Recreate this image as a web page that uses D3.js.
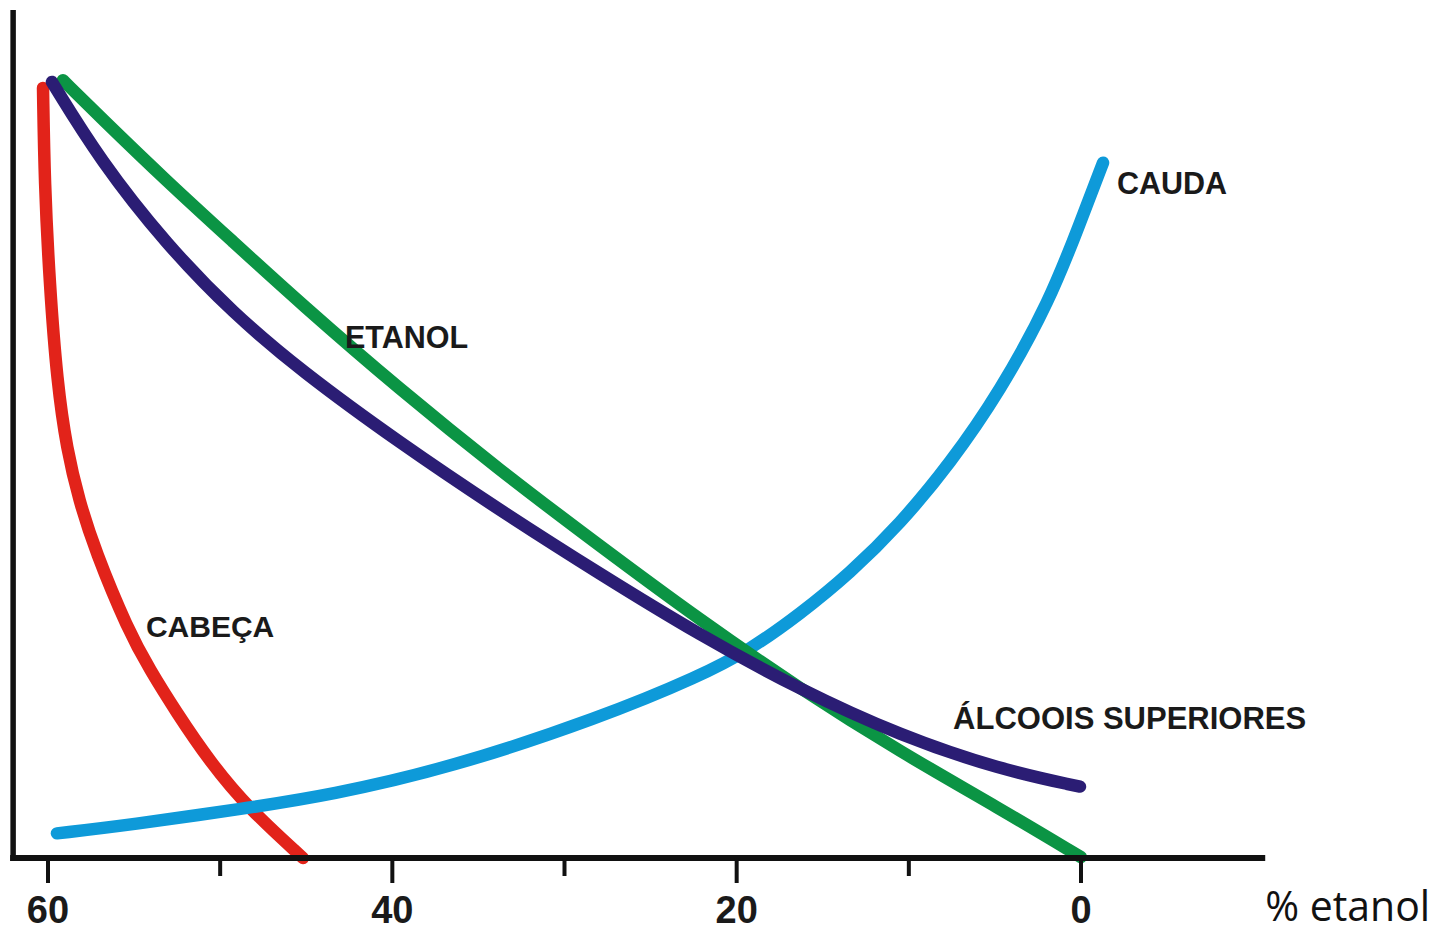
<!DOCTYPE html>
<html>
<head>
<meta charset="utf-8">
<script src="https://cdn.jsdelivr.net/npm/d3@7"></script>
<style>
  html, body { margin: 0; padding: 0; background: #ffffff; }
  svg { display: block; }
</style>
</head>
<body>
<svg id="chart" width="1437" height="932"></svg>
<script>
// ---------- data (x = % etanol, y = relative concentration) ----------
const xTicksMajor = [60, 40, 20, 0];
const xTicksMinor = [50, 30, 10];
const xTickLabels = ["60", "40", "20", "0"];
const xAxisTitle = "% etanol";

const seriesNames = ["CABEÇA", "ETANOL", "ÁLCOOIS SUPERIORES", "CAUDA"];

const cabecaX = [60.29, 60.20, 59.91, 59.47, 58.90, 58.20, 57.27, 55.35, 54.07, 52.56, 50.59, 48.38, 45.19];
const cabecaY = [90.6, 79.4, 67.6, 55.9, 48.0, 42.1, 36.2, 26.8, 22.1, 17.2, 11.3, 5.9, 0.0];

const etanolX = [59.13, 56.98, 53.09, 49.25, 45.36, 39.55, 33.75, 27.94, 22.13, 16.32, 10.51, 4.70, 0.0];
const etanolY = [91.5, 87.2, 79.6, 72.5, 65.3, 55.1, 45.6, 36.7, 28.0, 19.9, 12.5, 5.8, 0.1];

const alcooisX = [59.77, 56.98, 53.09, 49.25, 45.36, 39.55, 33.75, 27.94, 22.13, 16.32, 10.51, 4.70, 0.06];
const alcooisY = [91.3, 82.1, 72.1, 64.1, 57.4, 48.8, 40.9, 33.4, 26.2, 19.8, 14.4, 10.4, 8.4];

const caudaX = [59.48, 55.24, 48.67, 43.62, 36.65, 27.94, 22.13, 19.23, 16.32, 13.42, 10.51, 7.61, 4.70, 1.80, 0.06, -1.28];
const caudaY = [2.9, 3.9, 5.8, 7.4, 10.6, 16.5, 21.4, 24.5, 28.7, 33.5, 39.3, 46.4, 54.9, 65.6, 74.7, 81.8];

// label anchors (data coords)
const labelX = [54.31, 42.75, 7.43, -2.09];
const labelY = [26.0, 60.0, 15.2, 78.1];

const seriesColors = ["#e2231a", "#0b9444", "#2b1d74", "#0e9ad9"];

// axis extent (data units)
const xExtent = [62.2, -10.7];
const yExtent = [0, 100];

// ---------- drawing ----------
const svg = d3.select("#chart");
const x = d3.scaleLinear().domain([60, 0]).range([48, 1081]);
const y = d3.scaleLinear().domain([0, 100]).range([858, 8]);

const series = [
  {name: seriesNames[0], xs: cabecaX, ys: cabecaY, size: 30},
  {name: seriesNames[1], xs: etanolX, ys: etanolY, size: 30.5},
  {name: seriesNames[2], xs: alcooisX, ys: alcooisY, size: 31},
  {name: seriesNames[3], xs: caudaX, ys: caudaY, size: 30.5}
];

const line = d3.line()
  .x(d => x(d[0]))
  .y(d => y(d[1]))
  .curve(d3.curveBasis);

// draw order: red, blue, green, navy (navy on top)
const order = [0, 3, 1, 2];
order.forEach(i => {
  const s = series[i];
  const pts = s.xs.map((v, k) => [v, s.ys[k]]);
  svg.append("path")
    .attr("d", line(pts))
    .attr("fill", "none")
    .attr("stroke", seriesColors[i])
    .attr("stroke-width", 12.5)
    .attr("stroke-linecap", "round")
    .attr("stroke-linejoin", "round");
});

// y axis line
svg.append("line")
  .attr("x1", x(xExtent[0]) + 3).attr("x2", x(xExtent[0]) + 3)
  .attr("y1", y(yExtent[1]) + 2).attr("y2", y(0) + 3)
  .attr("stroke", "#111").attr("stroke-width", 5.5);

// x axis line
svg.append("line")
  .attr("x1", x(xExtent[0])).attr("x2", x(xExtent[1]))
  .attr("y1", y(0)).attr("y2", y(0))
  .attr("stroke", "#111").attr("stroke-width", 6);

// ticks
svg.selectAll(".tmaj").data(xTicksMajor).enter().append("line")
  .attr("x1", d => x(d)).attr("x2", d => x(d))
  .attr("y1", y(0)).attr("y2", y(0) + 25)
  .attr("stroke", "#111").attr("stroke-width", 4);
svg.selectAll(".tmin").data(xTicksMinor).enter().append("line")
  .attr("x1", d => x(d)).attr("x2", d => x(d))
  .attr("y1", y(0)).attr("y2", y(0) + 18)
  .attr("stroke", "#111").attr("stroke-width", 4);

// tick labels
svg.selectAll(".tl").data(xTicksMajor).enter().append("text")
  .attr("x", d => x(d)).attr("y", y(0) + 65)
  .attr("text-anchor", "middle")
  .attr("font-family", "'Liberation Sans', Arial, sans-serif")
  .attr("font-weight", "bold")
  .attr("font-size", 38)
  .attr("fill", "#1a1a1a")
  .text((d, i) => xTickLabels[i]);

// axis title
svg.append("text")
  .attr("x", x(xExtent[1])).attr("y", y(0) + 63)
  .attr("font-family", "'Open Sans', 'Noto Sans', sans-serif")
  .attr("font-size", 42)
  .attr("textLength", 165)
  .attr("lengthAdjust", "spacingAndGlyphs")
  .attr("fill", "#111")
  .text(xAxisTitle);

// series labels
series.forEach((s, i) => {
  svg.append("text")
    .attr("x", x(labelX[i])).attr("y", y(labelY[i]))
    .attr("font-family", "'Liberation Sans', Arial, sans-serif")
    .attr("font-weight", "bold")
    .attr("font-size", s.size)
    .attr("fill", "#1a1a1a")
    .text(s.name);
});
</script>
</body>
</html>
